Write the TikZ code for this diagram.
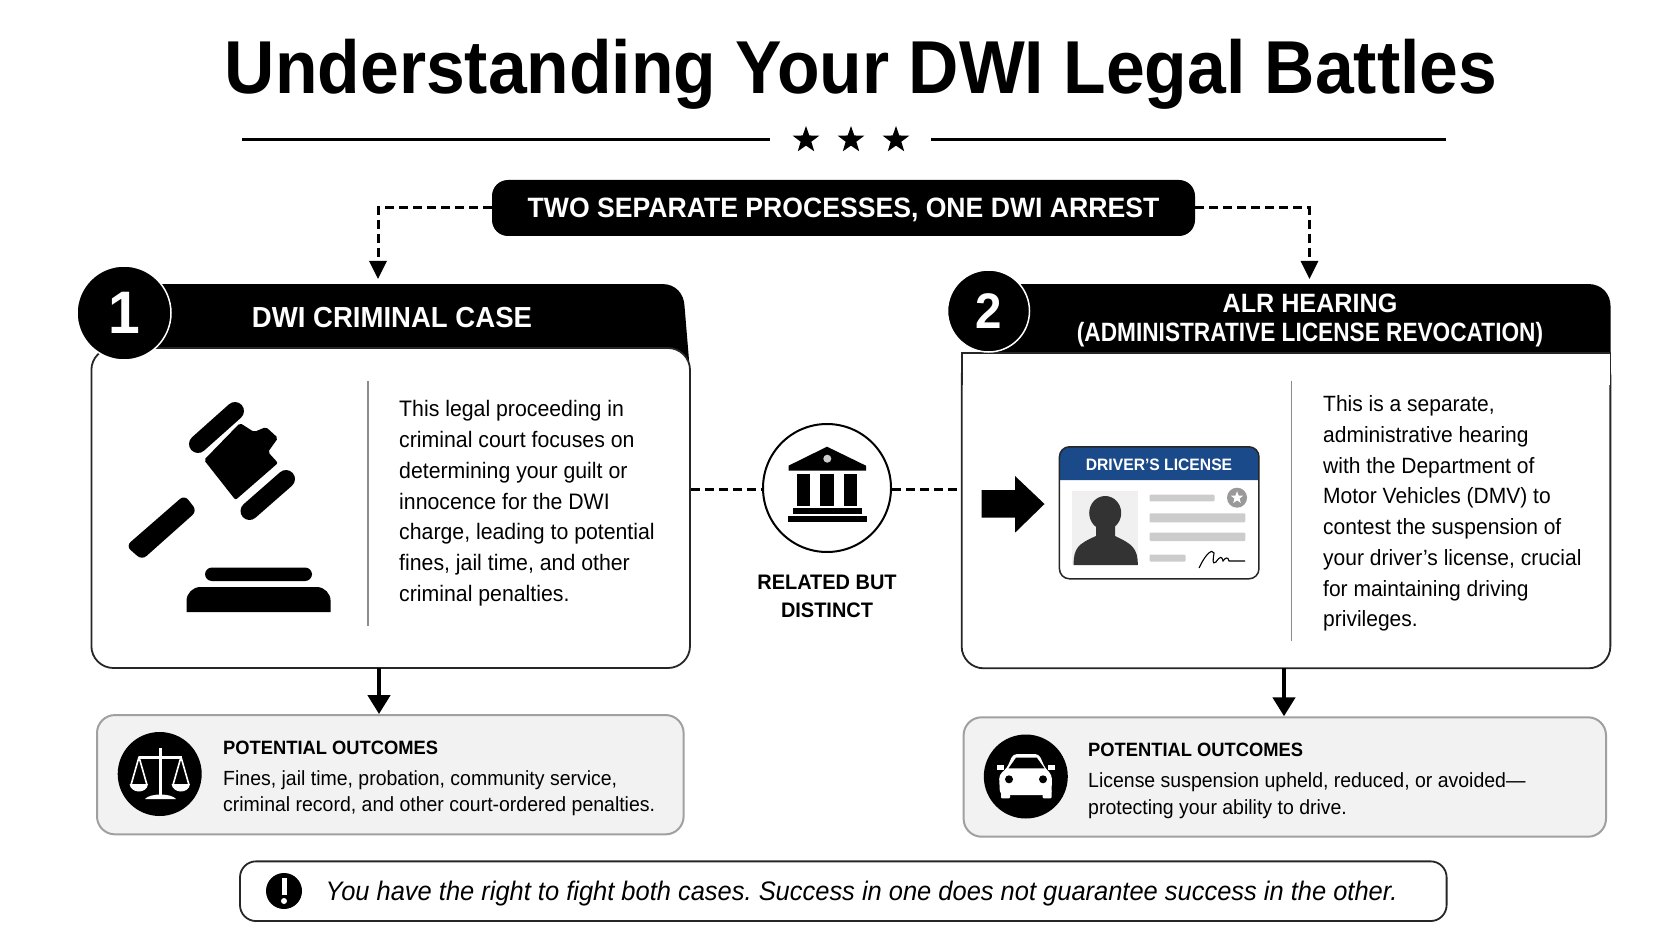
\documentclass[tikz,border=0pt]{standalone}
\usepackage{fontspec}
\setmainfont[FakeStretch=0.95]{Liberation Sans}
\newfontfamily\titlefont[FakeStretch=0.929]{Liberation Sans}
\newfontfamily\narrowfont[FakeStretch=0.855]{Liberation Sans}
\usetikzlibrary{arrows.meta,shapes.geometric}
\definecolor{licblue}{HTML}{1B4A8A}
\definecolor{softgray}{HTML}{F2F2F2}
\definecolor{edgegray}{HTML}{A0A0A0}
\definecolor{bargray}{HTML}{CCCCCC}
\tikzset{
    titletext/.style={font=\titlefont\fontsize{75}{80}\selectfont\bfseries},
    bannerbox/.style={rounded corners=16pt, fill=black, text=white, minimum width=703pt, minimum height=56pt, inner sep=0pt, font=\fontsize{28}{30}\selectfont\bfseries},
    cardbody/.style={rounded corners=22pt, draw=black!85, line width=1.8pt, fill=white, inner sep=0pt},
    numdisc/.style={circle, fill=black, draw=white, line width=1.5pt, text=white, inner sep=0pt, font=\bfseries},
    headtext/.style={text=white, align=center, font=\fontsize{26.5}{28.5}\selectfont\bfseries},
    bodytext/.style={anchor=north west, align=left, inner sep=0pt, font=\fontsize{22.4}{30.75}\selectfont},
    splitline/.style={draw=black!45, line width=1.5pt},
    linkdash/.style={draw=black, line width=3pt, dash pattern=on 9pt off 5pt},
    droparrow/.style={linkdash, -{Triangle[length=18pt,width=17pt]}},
    flowarrow/.style={draw=black, line width=4.5pt, -{Triangle[length=19pt,width=22pt]}},
    outbox/.style={rounded corners=18pt, draw=edgegray, line width=2pt, fill=softgray, inner sep=0pt},
    icondisc/.style={circle, fill=black, inner sep=0pt, minimum size=84pt},
    outtext/.style={anchor=north west, align=left, inner sep=0pt, font=\fontsize{20.5}{26.7}\selectfont},
    licbar/.style={fill=bargray, rounded corners=1pt}
}
\frenchspacing

\begin{document}
\begin{tikzpicture}
  [
    x = 1pt,
    y = -1pt,
  ]
  \useasboundingbox (0,0) rectangle (1672,941);
  \fill [white] (0,0) rectangle (1672,941);

  \node [titletext] (title) at (861,74.5) {Understanding Your DWI Legal Battles};
  \draw [line width=3pt] (242,140) -- (770,140);
  \draw [line width=3pt] (931,140) -- (1446,140);
  \foreach \n/\sx in {stara/806,starb/851,starc/896}
    \node [star, star points=5, star point ratio=2.5, fill=black, inner sep=0pt, minimum size=28pt] (\n) at (\sx,140) {};

  \node [bannerbox] (banner) at (843.5,208) {\raisebox{-10pt}[0pt][0pt]{TWO SEPARATE PROCESSES, ONE DWI ARREST}};
  \coordinate (crimin) at (378,279);
  \coordinate (alrin) at (1309.5,279);
  \draw [droparrow] (banner.west) -| (crimin);
  \draw [droparrow] (banner.east) -| (alrin);

  % first card
  \fill (150,284) -- (662,284) .. controls (676,284) and (684,294) .. (684.5,306) -- (690,372) -- (150,372) -- cycle;
  \node [cardbody, minimum width=598.6pt, minimum height=320pt] (crim) at (390.7,508) {};
  \node [numdisc, minimum size=94pt, font=\fontsize{60}{60}\selectfont\bfseries] (crimnum) at (124,313) {1};
  \node [headtext, font=\fontsize{29}{30}\selectfont\bfseries] (crimhead) at (392,318) {DWI CRIMINAL CASE};
  \draw [splitline] (368,381) -- (368,626);
  \node [bodytext] (crimtext) at (399,400.5) {This legal proceeding in\\criminal court focuses on\\determining your guilt or\\innocence for the DWI\\charge, leading to potential\\fines, jail time, and other\\criminal penalties.};

  % gavel
  \fill [rounded corners=2pt] (204,460) -- (240,423) -- (254,432) -- (266,427) -- (278,438) -- (268,452) -- (278,463) -- (235.5,500) -- cycle;
  \draw [line width=18pt, line cap=round] (198,444) -- (235,411);
  \draw [line width=18pt, line cap=round] (249.5,511) -- (286,479);
  \fill [rounded corners=6pt] (184.5,495) -- (197,511) -- (142,560) -- (126,546) -- cycle;
  \fill [rounded corners=7pt] (205,581) -- (205,567.5) -- (312,567.5) -- (312,581) -- cycle;
  \fill (186.5,612) [rounded corners=14pt] -- (186.5,587) -- (330.6,587) [sharp corners] -- (330.6,612) -- cycle;

  % second card
  \fill (990,284) -- (1588,284) .. controls (1602,284) and (1610.5,294) .. (1610.5,306) -- (1610.5,372) -- (990,372) -- cycle;
  \node [cardbody, minimum width=648.7pt, minimum height=315pt] (alr) at (1286,510.8) {};
  \draw [cardbody, sharp corners] (961.7,385) -- (961.7,353.3) -- (1610.4,353.3) -- (1610.4,385);
  \node [numdisc, minimum size=82pt, font=\fontsize{50}{50}\selectfont\bfseries] (alrnum) at (988.5,311) {2};
  \node [headtext] (alrhead) at (1310,320.5) {ALR HEARING\\{\narrowfont (ADMINISTRATIVE LICENSE REVOCATION)}};
  \draw [splitline] (1291.7,381) -- (1291.7,641);
  \node [bodytext, font=\fontsize{22.1}{30.75}\selectfont] (alrtext) at (1323,395.5) {This is a separate,\\administrative hearing\\with the Department of\\Motor Vehicles (DMV) to\\contest the suspension of\\your driver’s license, crucial\\for maintaining driving\\privileges.};

  % licence card
  \fill (981.7,490) -- (1015,490) -- (1015,476) -- (1044.5,504) -- (1015,532.7) -- (1015,517.7) -- (981.7,517.7) -- cycle;
  \fill [licblue] (1059.5,480) [rounded corners=10pt] -- (1059.5,447) -- (1259,447) [sharp corners] -- (1259,480) -- cycle;
  \node [draw=black!85, line width=1.5pt, rounded corners=10pt, inner sep=0pt, minimum width=199.5pt, minimum height=132pt] (lic) at (1159.2,512.8) {};
  \node [text=white, font=\fontsize{16.5}{18}\selectfont\bfseries] (licname) at (1159,465) {DRIVER’S LICENSE};
  \fill [black!6] (1072.3,490.7) rectangle (1137.8,565);
  \fill [black!80] (1105.2,513) ellipse [x radius=16pt, y radius=17pt];
  \fill [black!80] (1073.6,565) .. controls (1073.6,548) and (1078,544) .. (1096,536) -- (1096,520) -- (1115,520) -- (1115,536) .. controls (1132,544) and (1137.8,548) .. (1137.8,565) -- cycle;
  \fill [licbar] (1149.5,494.7) rectangle (1214.5,501.3);
  \fill [licbar] (1149.5,513.3) rectangle (1245.3,522.3);
  \fill [licbar] (1149.5,532.7) rectangle (1245.3,541);
  \fill [licbar] (1149.5,554.7) rectangle (1185.5,561.7);
  \node [circle, fill=black!40, inner sep=0pt, minimum size=20pt] (seal) at (1237,497.7) {};
  \node [star, star points=5, star point ratio=2.4, fill=white, inner sep=0pt, minimum size=13pt] (sealstar) at (1237,497.7) {};
  \draw [line width=1.1pt] (1199,568) .. controls (1205,555) and (1212,548) .. (1214,553) .. controls (1213,560) and (1212,565) .. (1216,562) .. controls (1220,556) and (1222,556) .. (1223,561) .. controls (1225,558) and (1228,556) .. (1229,561) -- (1245,561);

  % centre link
  \node [circle, draw=black, line width=2pt, fill=white, inner sep=0pt, minimum size=128pt] (link) at (827,488) {};
  \coordinate (linkline) at (827,489.5);
  \draw [linkdash] (crim.east |- linkline) -- (link.west |- linkline);
  \draw [linkdash] (link.east |- linkline) -- (alr.west |- linkline);
  \fill (827,446.7) -- (866,465.7) -- (866,470.7) -- (788.5,470.7) -- (788.5,465.7) -- cycle;
  \fill [black!20] (827.3,458.7) circle [radius=4pt];
  \fill (797.3,474) rectangle (810,506);
  \fill (820.3,474) rectangle (834,506);
  \fill (844.3,474) rectangle (857.3,506);
  \fill (792.7,508.3) rectangle (862,514);
  \fill (787.7,516) rectangle (867,522.3);
  \node [align=center, font=\fontsize{21}{28}\selectfont\bfseries] (linktext) at (827,596) {RELATED BUT\\DISTINCT};

  % outcomes
  \node [outbox, minimum width=586.6pt, minimum height=119.3pt] (crimout) at (390.3,774.7) {};
  \node [outbox, minimum width=642.4pt, minimum height=119.4pt] (alrout) at (1284.8,777) {};
  \coordinate (crimdrop) at (379,668);
  \coordinate (alrdrop) at (1284,668);
  \draw [flowarrow] (crimdrop) -- (crimdrop |- crimout.north);
  \draw [flowarrow] (alrdrop) -- (alrdrop |- alrout.north);

  \node [icondisc] (scales) at (159.7,774) {};
  \draw [white, line width=3pt] (160.4,748) -- (160.4,796);
  \draw [white, line width=3pt] (139,757) -- (182,757);
  \draw [white, line width=1.6pt, line join=round] (131,785) -- (139,757) -- (147,785);
  \draw [white, line width=1.6pt, line join=round] (173,785) -- (181,757) -- (189,785);
  \fill [white] (129.5,784) -- (148,784) .. controls (147,794) and (131,794) .. (129.5,784) -- cycle;
  \fill [white] (171.5,784) -- (190,784) .. controls (189,794) and (173,794) .. (171.5,784) -- cycle;
  \fill [white] (145,799) .. controls (150,793) and (171,793) .. (176,799) -- cycle;
  \node [outtext, font=\fontsize{19.3}{20}\selectfont\bfseries] (crimouthead) at (223,740.5) {POTENTIAL OUTCOMES};
  \node [outtext] (crimouttext) at (223,770) {Fines, jail time, probation, community service,\\criminal record, and other court-ordered penalties.};

  \node [icondisc] (car) at (1025.8,776.5) {};
  \fill [white, rounded corners=4pt] (1000,795) -- (999,775) -- (1007,768) -- (1013,754) -- (1039,754) -- (1045,768) -- (1052,775) -- (1051.5,795) -- cycle;
  \fill [white, rounded corners=1pt] (1001,790) rectangle (1010,798.3);
  \fill [white, rounded corners=1pt] (1042.6,790) rectangle (1051.5,798.3);
  \fill [white] (997,765) rectangle (1004,770);
  \fill [white] (1048,765) rectangle (1055,770);
  \fill (1008.5,768.3) -- (1016,757.7) -- (1036.8,757.7) -- (1044.5,768.3) -- cycle;
  \fill (1009,779.3) circle [radius=4pt];
  \fill (1043,779.3) circle [radius=4pt];
  \node [outtext, font=\fontsize{19.3}{20}\selectfont\bfseries] (alrouthead) at (1088,743) {POTENTIAL OUTCOMES};
  \node [outtext] (alrouttext) at (1088,772.5) {License suspension upheld, reduced, or avoided—\\protecting your ability to drive.};

  % bottom note
  \node [draw=black!85, line width=1.8pt, rounded corners=16pt, fill=white, inner sep=0pt, minimum width=1206.6pt, minimum height=59.7pt] (note) at (843.3,891.2) {};
  \node [circle, fill=black, inner sep=0pt, minimum size=36pt] (alert) at (284,891) {};
  \draw [white, line width=5pt] (284,878) -- (284,895);
  \fill [white] (284,901) circle [radius=3pt];
  \node [anchor=base west, inner sep=0pt, font=\fontsize{26.8}{28}\selectfont\itshape] (notetext) at (325.5,900) {You have the right to fight both cases. Success in one does not guarantee success in the other.};
\end{tikzpicture}
\end{document}
